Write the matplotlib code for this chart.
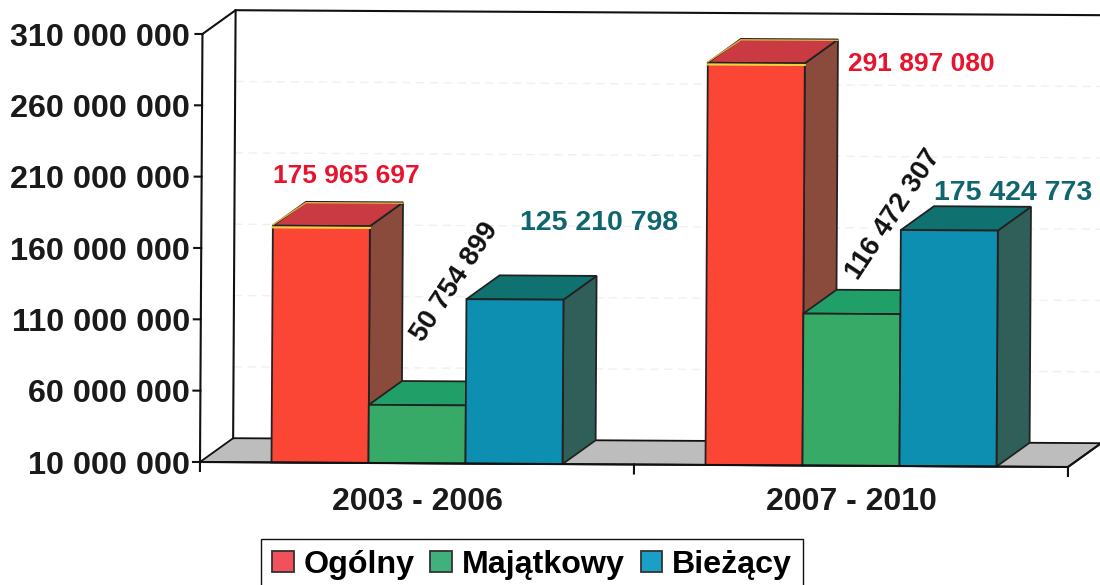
import matplotlib
matplotlib.use("Agg")
import matplotlib.pyplot as plt
import numpy as np
from matplotlib.patches import Patch
from matplotlib.transforms import Affine2D

plt.rcParams["font.family"] = ["Liberation Sans", "DejaVu Sans"]
plt.rcParams["font.weight"] = "bold"

periods = ["2003 - 2006", "2007 - 2010"]
series = ["Ogólny", "Majątkowy", "Bieżący"]
ogolny = [175965697, 291897080]
majatkowy = [50754899, 116472307]
biezacy = [125210798, 175424773]
yticks = [10000000, 60000000, 110000000, 160000000, 210000000, 260000000, 310000000]

front = ["#fb4636", "#38aa68", "#0c8fb0"]
top = ["#c93a42", "#20a068", "#0f7270"]
side = ["#8a4a3c", "#2f7a58", "#2f5f58"]
legend_colors = ["#f2505a", "#40b07c", "#18a0c8"]
label_colors = ["#e8142e", "#111111", "#10666e"]
label_rot = [0, 56.5, 0]
label_size = [19, 19.6, 20.5]
# pixel offset of each value label from the top middle of its bar
label_offsets = [
    [(25, 50), (38, 123), (84, 76)],
    [(165, -1), (42, 99), (64, 37)],
]

W, H = 1100, 585
fig = plt.figure(figsize=(W / 100, H / 100), dpi=100)
ax = fig.add_axes([200 / W, (H - 462) / H, 868 / W, 428 / H])
ax.set_xlim(0, 2)
ax.set_ylim(yticks[0], yticks[-1])
for s in ax.spines.values():
    s.set_visible(False)

# the scan is a bit crooked, so everything turns around the axis corner
tilt = ax.transData + Affine2D().rotate_deg_around(200, H - 462, -0.33)

base = yticks[0]
ymax = yticks[-1]
dx = 33 / 434
dy = 24 * (ymax - base) / 428
bar_w = 97 / 434
line = dict(color="#111111", lw=1.5, transform=tilt, clip_on=False)

# floor and walls
ax.fill([0, dx, 2 + dx, 2], [base, base + dy, base + dy, base], color="#bdbdbd",
        ec="#111111", lw=1.3, transform=tilt, clip_on=False, zorder=1)
ax.plot([0, 0], [base, ymax], zorder=1, **line)
ax.plot([dx, dx], [base + dy, ymax + dy], zorder=1, **line)
ax.plot([0, dx, 2 + dx], [ymax, ymax + dy, ymax + dy], zorder=1, **line)
for v in yticks[1:-1]:
    ax.plot([dx, 2 + dx], [v + dy, v + dy], color="#f0f0f0", lw=1, ls=(0, (6, 4)),
            transform=tilt, clip_on=False, zorder=0.5)
    ax.plot([-7 / 434, 0], [v, v], zorder=1, **line)
ax.plot([-7 / 434, 0], [base, base], zorder=1, **line)
ax.plot([-7 / 434, 0], [ymax, ymax], zorder=1, **line)
for x in [0, 1, 2]:
    ax.plot([x, x], [base, base - 9 * (ymax - base) / 428], zorder=1, **line)

# bars, left to right so that each one covers the side of the previous
z = 2
for g, values in enumerate(zip(ogolny, majatkowy, biezacy)):
    for i, v in enumerate(values):
        x0 = g + 0.5 + (i - 1.5) * bar_w
        x1 = x0 + bar_w
        ax.fill([x1, x1 + dx, x1 + dx, x1], [base, base + dy, v + dy, v], fc=side[i],
                ec="#222222", lw=1.3, transform=tilt, clip_on=False, zorder=z)
        ax.fill([x0, x0 + dx, x1 + dx, x1], [v, v + dy, v + dy, v], fc=top[i],
                ec="#222222", lw=1.3, transform=tilt, clip_on=False, zorder=z)
        bar = ax.bar(x0, v - base, bar_w, bottom=base, align="edge", color=front[i],
                     ec="#222222", lw=1.3, clip_on=False, zorder=z + 0.1)[0]
        bar.set_transform(tilt)
        if i == 0:
            ax.plot([x0, x1], [v - 1200000, v - 1200000], color="#f0d23c", lw=1.5,
                    transform=tilt, clip_on=False, zorder=z + 0.2)
            ax.plot([x0, x0 + dx, x1 + dx], [v + 600000, v + dy - 600000, v + dy - 600000],
                    color="#e0b040", lw=1, transform=tilt, clip_on=False, zorder=z + 0.2)
        z += 1

ax.plot([0, 2], [base, base], zorder=z, **line)
ax.plot([2, 2 + dx], [base, base + dy], zorder=z, **line)

# value labels
for g, values in enumerate(zip(ogolny, majatkowy, biezacy)):
    for i, v in enumerate(values):
        x0 = g + 0.5 + (i - 1) * bar_w
        text = f"{v:,}".replace(",", " ")
        ax.annotate(text, (x0, v), xycoords=tilt, xytext=label_offsets[g][i],
                    textcoords="offset pixels", ha="center", va="center",
                    rotation=label_rot[i], rotation_mode="anchor",
                    color=label_colors[i], fontsize=label_size[i], zorder=50)

ax.set_yticks(yticks)
ax.set_yticklabels([f"{v:,}".replace(",", " ") for v in yticks], fontsize=23.3, color="#1a1a1a")
ax.tick_params(axis="y", length=0, pad=7)

ax.set_xticks([0.5, 1.5])
ax.set_xticklabels(periods, fontsize=23, color="#1a1a1a")
ax.tick_params(axis="x", length=0, pad=18)

handles = [Patch(fc=c, ec="#333333", lw=1.3) for c in legend_colors]
fig.legend(handles, series, loc="center", bbox_to_anchor=(532 / W, (H - 565) / H), ncols=3,
           fontsize=23.2, frameon=True, fancybox=False, edgecolor="#111111", framealpha=1,
           handlelength=0.67, handleheight=0.6, handletextpad=0.3, columnspacing=0.5,
           borderpad=0.33, borderaxespad=0)

fig.savefig("out.png")
